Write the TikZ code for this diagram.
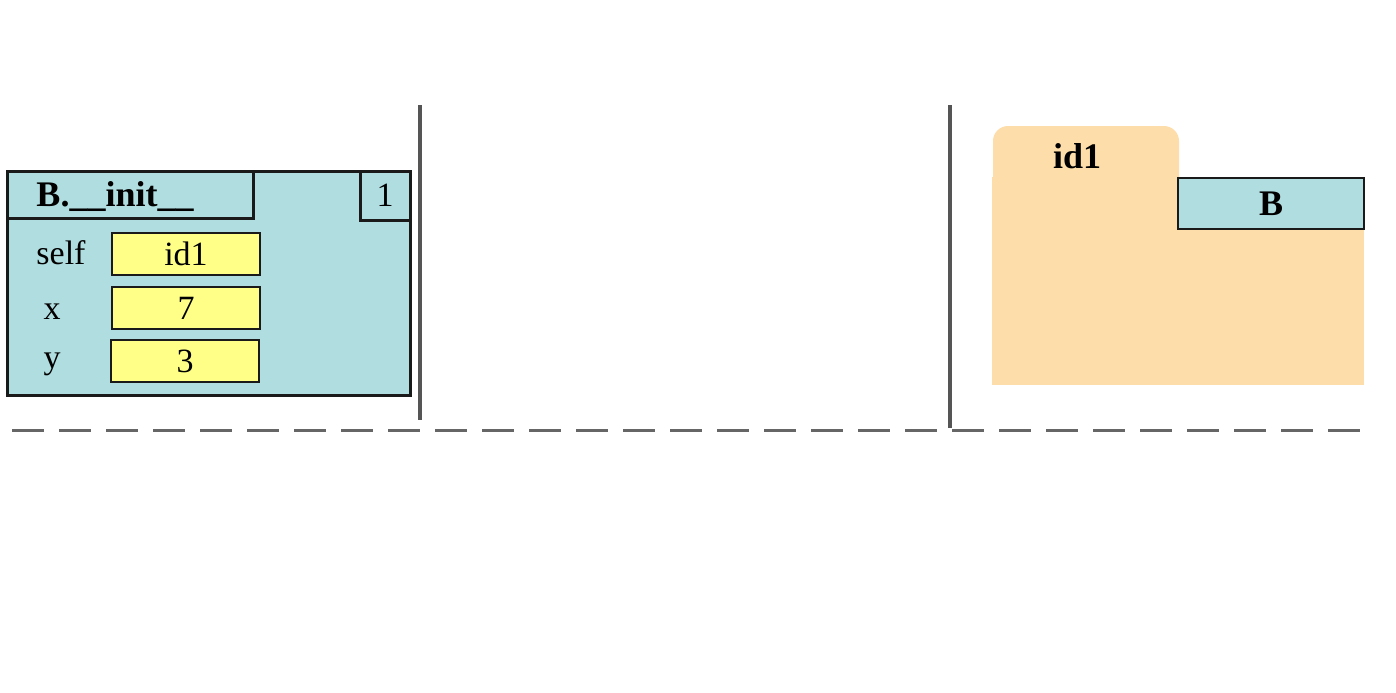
\documentclass[tikz,border=0pt]{standalone}
\usepackage{fontspec}
\setmainfont{Liberation Serif}
\usepackage{tikz}
\usetikzlibrary{positioning}
\definecolor{framecyan}{RGB}{176,221,224}
\definecolor{valyellow}{RGB}{255,255,136}
\definecolor{objorange}{RGB}{253,221,169}
\definecolor{sepgray}{RGB}{85,85,85}
\definecolor{dashgray}{RGB}{102,102,102}
\definecolor{inkblack}{RGB}{26,26,26}
\tikzstyle{frame} =[draw=inkblack, fill=framecyan, line width=1.5pt, rectangle, inner sep=0pt, outer sep=0pt]
\tikzstyle{valbox} =[draw=inkblack, fill=valyellow, line width=0.75pt, rectangle, inner sep=0pt, outer sep=0pt, minimum width=74pt, minimum height=21pt, font=\fontsize{17}{20}\selectfont]
\tikzstyle{varname} =[inner sep=0pt, font=\fontsize{17}{20}\selectfont]
\tikzstyle{boldtext} =[inner sep=0pt, font=\fontsize{18}{21}\selectfont\bfseries]
\tikzstyle{objpart} =[fill=objorange, rectangle, inner sep=0pt, outer sep=0pt]
\tikzstyle{sepline} =[draw=sepgray, line width=2pt]

\begin{document}
\begin{tikzpicture}[x=0.5pt, y=-0.5pt]
	\useasboundingbox (0,0) rectangle (1396,692);
	% separators
	\draw[sepline] (420,105) -- (420,420);
	\draw[sepline] (950,105) -- (950,428);
	\draw[draw=dashgray, line width=1.5pt, dash pattern=on 16pt off 7.5pt] (12,430) -- (1370,430);
	% frame
	\node[frame, anchor=north west, minimum width=201.5pt, minimum height=112pt] (frame) at (7,171) {};
	\node[frame, anchor=north west, minimum width=123pt, minimum height=23.5pt] (title) at (7,171) {};
	\node[boldtext] at (115,197) {B.\_\_init\_\_};
	\node[frame, anchor=north east, minimum width=25pt, minimum height=24.5pt, font=\fontsize{17}{20}\selectfont] (num) at (410,171) {1};
	\node[valbox] (vself) at (186,254) {id1};
	\node[valbox] (vx) at (186,308) {7};
	\node[valbox] (vy) at (185,361) {3};
	\node[varname] (nself) at (61,252.5) {self};
	\node[varname] (nx) at (52,312) {x};
	\node[varname] (ny) at (52,364) {y};
	% object
	\node[objpart, rounded corners=7.5pt, anchor=north west, minimum width=93pt, minimum height=40pt] (tab) at (993,126) {};
	\node[objpart, anchor=north west, minimum width=186pt, minimum height=104pt] (body) at (992,177) {};
	\node[boldtext] (oid) at (1077,156) {id1};
	\node[draw=inkblack, fill=framecyan, line width=1pt, inner sep=0pt, outer sep=0pt, anchor=north east, minimum width=93pt, minimum height=25.5pt, font=\fontsize{18}{21}\selectfont\bfseries] (cls) at (1364,178) {B};
\end{tikzpicture}
\end{document}
